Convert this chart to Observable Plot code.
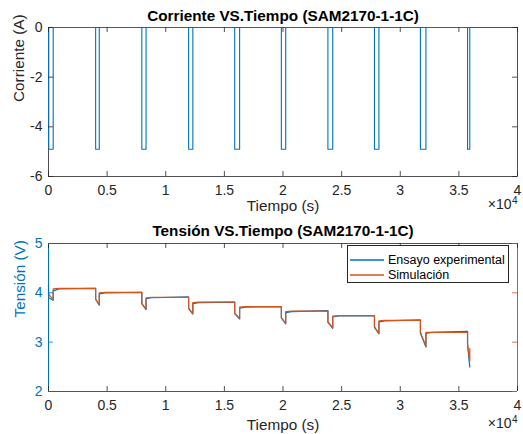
<!DOCTYPE html>
<html><head><meta charset="utf-8">
<script src="https://cdn.jsdelivr.net/npm/d3@7"></script>
<script src="https://cdn.jsdelivr.net/npm/@observablehq/plot@0.6"></script>
<style>
body{margin:0;background:#fff;}
#wrap{position:relative;width:523px;height:434px;background:#fff;font-family:"Liberation Sans",Arial,sans-serif;overflow:hidden;}
#wrap svg{display:block;}
.legend{position:absolute;left:347px;top:245px;width:162px;height:38px;border:1px solid #262626;background:#fff;box-sizing:border-box;font-size:12.5px;color:#000;padding-top:6px;}
.legend .row{display:flex;align-items:center;height:15px;}
.legend svg.sw{width:34px;height:4px;margin-left:2px;margin-right:4px;display:block;}
</style></head>
<body><div id="wrap"></div>
<script>
// ---- data (time in s) ----
const pulseStart = [20, 4020, 7960, 11950, 15880, 19860, 23830, 27800, 31720, 35740];
const pulseEnd   = [400, 4330, 8320, 12310, 16300, 20230, 24240, 28180, 32190, 35930];
const pulseCurrent = [-4.9, -4.9, -4.9, -4.9, -4.9, -4.9, -4.9, -4.9, -4.9, -4.9];

// experimental voltage (V)
const expRest    = [4.17, 4.09, 4.01, 3.92, 3.81, 3.72, 3.64, 3.54, 3.45, 3.22];
const expDrop    = [3.90, 3.87, 3.78, 3.68, 3.58, 3.49, 3.40, 3.30, 3.18, 2.96];
const expMin     = [3.85, 3.75, 3.66, 3.57, 3.47, 3.37, 3.28, 3.17, 2.90, 2.50];
const expRecover = [4.04, 3.98, 3.88, 3.78, 3.69, 3.60, 3.51, 3.41, 3.18];
const expSettle  = [4.08, 4.00, 3.90, 3.80, 3.71, 3.62, 3.53, 3.43, 3.20];

// simulated voltage (V)
const simRest    = [3.98, 4.09, 4.01, 3.91, 3.81, 3.72, 3.63, 3.54, 3.44, 3.20];
const simDrop    = [3.97, 3.87, 3.78, 3.69, 3.59, 3.50, 3.41, 3.31, 3.20, 2.95];
const simMin     = [3.86, 3.76, 3.67, 3.58, 3.48, 3.38, 3.29, 3.18, 2.92, 2.62];
const simRecover = [4.08, 4.00, 3.90, 3.80, 3.71, 3.62, 3.53, 3.43, 3.20, 2.87];
const simSettle  = [4.09, 4.01, 3.91, 3.81, 3.72, 3.63, 3.54, 3.44, 3.20];

const xTicks = [0, 5000, 10000, 15000, 20000, 25000, 30000, 35000, 40000];
const yTicksI = [-6, -4, -2, 0];
const yTicksV = [2, 3, 4, 5];
const settleDt = 500;

// ---- build tables ----
const currentData = [{t: 0, i: 0}];
pulseStart.forEach((s, k) => {
  currentData.push({t: s, i: 0}, {t: s, i: pulseCurrent[k]}, {t: pulseEnd[k], i: pulseCurrent[k]}, {t: pulseEnd[k], i: 0});
});

function buildV(rest, drop, min, recover, settle) {
  const out = [];
  pulseStart.forEach((s, k) => {
    out.push({t: k === 0 ? 0 : s, v: rest[k]});
    out.push({t: s + 1, v: drop[k]});
    out.push({t: pulseEnd[k], v: min[k]});
    if (recover[k] !== undefined) out.push({t: pulseEnd[k] + 1, v: recover[k]});
    if (settle[k] !== undefined) out.push({t: pulseEnd[k] + settleDt, v: settle[k]});
  });
  return out;
}
const expData = buildV(expRest, expDrop, expMin, expRecover, expSettle);
const simData = buildV(simRest, simDrop, simMin, simRecover, simSettle);

// ---- styling ----
const BLUE = "#0072BD", ORANGE = "#D95319", AX = "#262626";
const FONT = "Liberation Sans, Arial, Helvetica, sans-serif";
const fmtX = d => String(d / 10000);
const fmtY = d => String(d);
const PW = 469;

function xDecor(ph, color, labelDy) {
  return [
    Plot.ruleX(xTicks, {x: d => d, insetTop: ph - 5, stroke: color, strokeWidth: 0.8}),
    Plot.ruleX(xTicks, {x: d => d, insetBottom: ph - 5, stroke: color, strokeWidth: 0.8}),
    Plot.axisX({ticks: xTicks, tickFormat: fmtX, tickSize: 0, tickPadding: 9, fontSize: 14, color: AX, label: null}),
    Plot.text(["Tiempo (s)"], {frameAnchor: "bottom", lineAnchor: "middle", dy: labelDy, fontSize: 15.3, fill: AX}),
    Plot.text(["×10"], {frameAnchor: "bottom-right", lineAnchor: "middle", dx: -6, dy: labelDy - 1.5, textAnchor: "end", fontSize: 14, fill: AX}),
    Plot.text(["4"], {frameAnchor: "bottom-right", lineAnchor: "middle", dx: 0, dy: labelDy - 5.5, textAnchor: "end", fontSize: 10, fill: AX})
  ];
}

const topPlot = Plot.plot({
  width: 523, height: 217, marginLeft: 48, marginRight: 6, marginTop: 27, marginBottom: 41,
  style: {fontFamily: FONT, background: "transparent", overflow: "visible"},
  x: {domain: [0, 40000]},
  y: {domain: [-6, 0]},
  marks: [
    Plot.frame({stroke: AX, strokeWidth: 0.8}),
    Plot.line(currentData, {x: "t", y: "i", stroke: BLUE, strokeWidth: 1.1}),
    ...xDecor(149, AX, 30),
    Plot.ruleY(yTicksI, {y: d => d, insetRight: PW - 5, stroke: AX, strokeWidth: 0.8}),
    Plot.ruleY(yTicksI, {y: d => d, insetLeft: PW - 5, stroke: AX, strokeWidth: 0.8}),
    Plot.axisY({ticks: yTicksI, tickFormat: fmtY, tickSize: 0, tickPadding: 6, fontSize: 14, color: AX, label: null}),
    Plot.text(["Corriente VS.Tiempo (SAM2170-1-1C)"], {frameAnchor: "top", lineAnchor: "middle", dy: -11.5, fontWeight: "bold", fontSize: 15.3, fill: "#000"}),
    Plot.text(["Corriente (A)"], {frameAnchor: "left", lineAnchor: "middle", dx: -29, rotate: -90, fontSize: 15.3, fill: AX})
  ]
});

const botPlot = Plot.plot({
  width: 523, height: 217, marginLeft: 48, marginRight: 6, marginTop: 26, marginBottom: 43,
  style: {fontFamily: FONT, background: "transparent", overflow: "visible"},
  x: {domain: [0, 40000]},
  y: {domain: [2, 5]},
  marks: [
    Plot.ruleY([2, 5], {y: d => d, stroke: AX, strokeWidth: 0.8}),
    Plot.line(expData, {x: "t", y: "v", stroke: BLUE, strokeWidth: 1.2}),
    Plot.line(simData, {x: "t", y: "v", stroke: ORANGE, strokeWidth: 1.2}),
    Plot.ruleX([0], {x: d => d, stroke: BLUE, strokeWidth: 1}),
    Plot.ruleX([40000], {x: d => d, stroke: ORANGE, strokeWidth: 1}),
    ...xDecor(148, AX, 34),
    Plot.ruleY(yTicksV, {y: d => d, insetRight: PW - 5, stroke: BLUE, strokeWidth: 0.8}),
    Plot.ruleY(yTicksV, {y: d => d, insetLeft: PW - 5, stroke: ORANGE, strokeWidth: 0.8}),
    Plot.axisY({ticks: yTicksV, tickFormat: fmtY, tickSize: 0, tickPadding: 6, fontSize: 14, color: BLUE, label: null}),
    Plot.text(["Tensión VS.Tiempo (SAM2170-1-1C)"], {frameAnchor: "top", lineAnchor: "middle", dy: -12.4, fontWeight: "bold", fontSize: 15.3, fill: "#000"}),
    Plot.text(["Tensión (V)"], {frameAnchor: "left", lineAnchor: "middle", dx: -28, rotate: -90, fontSize: 15.3, fill: BLUE})
  ]
});

const wrap = document.getElementById("wrap");
wrap.appendChild(topPlot);
wrap.appendChild(botPlot);

const legend = document.createElement("div");
legend.className = "legend";
[["Ensayo experimental", BLUE], ["Simulación", ORANGE]].forEach(([name, c]) => {
  const row = document.createElement("div");
  row.className = "row";
  const sw = document.createElementNS("http://www.w3.org/2000/svg", "svg");
  sw.setAttribute("class", "sw");
  sw.setAttribute("viewBox", "0 0 34 4");
  const ln = document.createElementNS("http://www.w3.org/2000/svg", "line");
  ln.setAttribute("x1", 0); ln.setAttribute("x2", 34);
  ln.setAttribute("y1", 2); ln.setAttribute("y2", 2);
  ln.setAttribute("stroke", c); ln.setAttribute("stroke-width", 1.4);
  sw.appendChild(ln);
  const tx = document.createElement("span");
  tx.textContent = name;
  row.appendChild(sw); row.appendChild(tx);
  legend.appendChild(row);
});
wrap.appendChild(legend);
</script>
</body></html>
